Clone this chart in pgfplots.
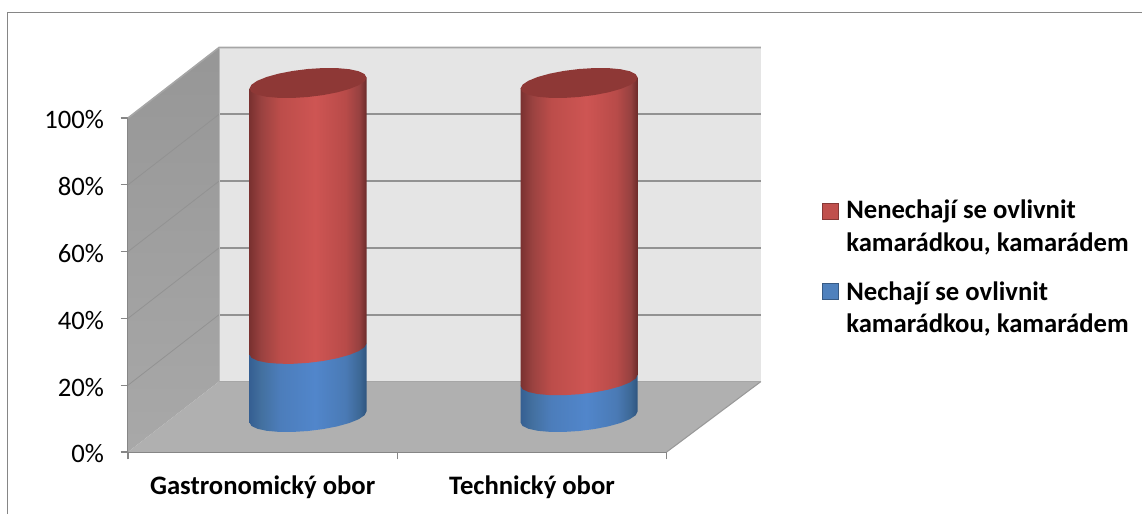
\documentclass[border=0pt]{standalone}
\usepackage{fontspec}
\setmainfont{Carlito}
\usepackage{pgfplots}
\usepackage{pgfplotstable}
\pgfplotsset{compat=1.18}
\definecolor{axgray}{HTML}{868686}
\definecolor{gridgray}{HTML}{929292}
\definecolor{topred}{HTML}{8E3836}
\definecolor{legred}{HTML}{C0504D}
\definecolor{legblue}{HTML}{4F81BD}
\definecolor{ra}{HTML}{7A3130}\definecolor{rb}{HTML}{9A4240}\definecolor{rc}{HTML}{BC4D4A}\definecolor{rd}{HTML}{CE5553}\definecolor{re}{HTML}{B84B49}\definecolor{rf}{HTML}{964140}\definecolor{rg}{HTML}{6C2B2A}
\definecolor{ba}{HTML}{355F92}\definecolor{bb}{HTML}{43709F}\definecolor{bc}{HTML}{4C7DBB}\definecolor{bd}{HTML}{5186CB}\definecolor{be}{HTML}{4A7AB5}\definecolor{bf}{HTML}{3D6896}\definecolor{bg}{HTML}{2F557F}
\pgfdeclarehorizontalshading{redcyl}{100bp}{color(0bp)=(ra);color(25bp)=(ra);color(30bp)=(rb);color(38bp)=(rc);color(53bp)=(rd);color(66bp)=(re);color(72bp)=(rf);color(75bp)=(rg);color(100bp)=(rg)}
\pgfdeclarehorizontalshading{bluecyl}{100bp}{color(0bp)=(ba);color(25bp)=(ba);color(30bp)=(bb);color(38bp)=(bc);color(53bp)=(bd);color(66bp)=(be);color(72bp)=(bf);color(75bp)=(bg);color(100bp)=(bg)}
\pgfplotstableread{
dx dy top
-0.2172 -1.647 0
-0.2098 -2.675 0
-0.1881 -3.521 0
-0.1536 -4.128 0
-0.1086 -4.452 0
-0.0562 -4.473 0
0 -4.19 0
0.0562 -3.621 0
0.1086 -2.805 0
0.1536 -1.798 0
0.1881 -0.669 0
0.2098 0.506 0
0.2172 1.647 0
0.2172 1.647 1
-0.2172 -1.647 1
}\segment
\pgfplotstableread{
dx dy
-0.2172 -1.647
-0.2098 -2.675
-0.1881 -3.521
-0.1536 -4.128
-0.1086 -4.452
-0.0562 -4.473
0 -4.19
0.0562 -3.621
0.1086 -2.805
0.1536 -1.798
0.1881 -0.669
0.2098 0.506
0.2172 1.647
0.2098 2.675
0.1881 3.521
0.1536 4.128
0.1086 4.452
0.0562 4.473
0 4.19
-0.0562 3.621
-0.1086 2.805
-0.1536 1.798
-0.1881 0.669
-0.2098 -0.506
}\ellipsetable
\begin{document}
\begin{tikzpicture}
\useasboundingbox (0,0) rectangle (856.5pt,385.5pt);
\begin{axis}[
  at={(96pt,46.5pt)},anchor=south west,scale only axis,
  width=404pt,height=250.5pt,
  xmin=0,xmax=2,ymin=0,ymax=100,clip=false,
  axis x line*=bottom,axis y line*=left,
  axis line style={color=axgray,line width=1pt,-},
  tick style={color=axgray,line width=1pt},
  tick align=outside,
  major tick length=5.5pt,
  xtick={0.5,1.5},
  xticklabels={Gastronomický obor,Technický obor},
  minor xtick={0,1,2},
  x tick style={draw=none},
  minor x tick style={draw=axgray,line width=1pt},
  minor tick length=5.5pt,
  xticklabel style={font=\fontsize{20}{22}\selectfont\bfseries,anchor=base,yshift=-26pt},
  ytick={0,20,40,60,80,100},
  yticklabels={0\%,20\%,40\%,60\%,80\%,100\%},
  yticklabel style={font=\fontsize{20}{22}\selectfont,xshift=-9pt,yshift=-1.5pt},
]
% walls and floor
\addplot[draw=none,top color=black!41,bottom color=black!34] coordinates {(0,0)(0.338,21.1)(0.338,121.1)(0,100)};
\addplot[draw=none,fill=black!10] coordinates {(0.338,21.1)(2.35,21.1)(2.35,121.1)(0.338,121.1)};
\addplot[draw=none,fill=black!31] coordinates {(0,0)(2,0)(2.35,21.1)(0.338,21.1)};
% grid
\addplot[gridgray,line width=0.6pt] coordinates {(0,20)(0.338,41.1)};
\addplot[gridgray,line width=0.6pt] coordinates {(0,40)(0.338,61.1)};
\addplot[gridgray,line width=0.6pt] coordinates {(0,60)(0.338,81.1)};
\addplot[gridgray,line width=0.6pt] coordinates {(0,80)(0.338,101.1)};
\addplot[gridgray,line width=1.3pt] coordinates {(0.338,41.1)(2.35,41.1)};
\addplot[gridgray,line width=1.3pt] coordinates {(0.338,61.1)(2.35,61.1)};
\addplot[gridgray,line width=1.3pt] coordinates {(0.338,81.1)(2.35,81.1)};
\addplot[gridgray,line width=1.3pt] coordinates {(0.338,101.1)(2.35,101.1)};
\addplot[black!35,line width=1.2pt] coordinates {(0,100)(0.338,121.1)(2.35,121.1)};
\addplot[black!28,line width=0.8pt] coordinates {(0.338,121.1)(0.338,21.1)};
\addplot[black!40,line width=0.8pt] coordinates {(2,0)(2.35,21.1)};
\addplot[black!35,line width=0.8pt] coordinates {(0.338,21.1)(2.35,21.1)};
\end{axis}
\begin{axis}[
  at={(96pt,46.5pt)},anchor=south west,scale only axis,
  width=404pt,height=250.5pt,
  xmin=0,xmax=2,ymin=-10.48,ymax=89.52,clip=false,
  hide axis,
]
% Gastronomický obor: 20.4 / 79.6
\addplot[shade,shading=bluecyl,draw=none] table[x expr=\thisrow{dx}+0.6683,y expr=\thisrow{dy}+20.4*\thisrow{top}]{\segment};
\addplot[shade,shading=redcyl,draw=none] table[x expr=\thisrow{dx}+0.6683,y expr=\thisrow{dy}+20.4+79.6*\thisrow{top}]{\segment};
\addplot[draw=none,fill=topred] table[x expr=\thisrow{dx}+0.6683,y expr=\thisrow{dy}+100]{\ellipsetable};
% Technický obor: 11 / 89
\addplot[shade,shading=bluecyl,draw=none] table[x expr=\thisrow{dx}+1.6748,y expr=\thisrow{dy}+11*\thisrow{top}]{\segment};
\addplot[shade,shading=redcyl,draw=none] table[x expr=\thisrow{dx}+1.6748,y expr=\thisrow{dy}+11+89*\thisrow{top}]{\segment};
\addplot[draw=none,fill=topred] table[x expr=\thisrow{dx}+1.6748,y expr=\thisrow{dy}+100]{\ellipsetable};
\end{axis}
\begin{scope}[shift={(0pt,385.5pt)},x=0.75pt,y=-0.75pt]
\draw[axgray,line width=1.1pt] (7.5,514)--(7.5,12.7)--(1142,12.7);
\fill[legred,draw=legred!70!black,line width=0.5pt] (822,203) rectangle (838,219);
\fill[legblue,draw=legblue!70!black,line width=0.5pt] (822,283) rectangle (838,299);
\begin{scope}[every node/.style={anchor=base west,inner sep=0pt,font=\fontsize{20}{22}\selectfont\bfseries}]
\node at (846,219) {Nenechají se ovlivnit};
\node at (846,252) {kamarádkou, kamarádem};
\node at (846,300.5) {Nechají se ovlivnit};
\node at (846,333) {kamarádkou, kamarádem};
\end{scope}
\end{scope}
\end{tikzpicture}
\end{document}
